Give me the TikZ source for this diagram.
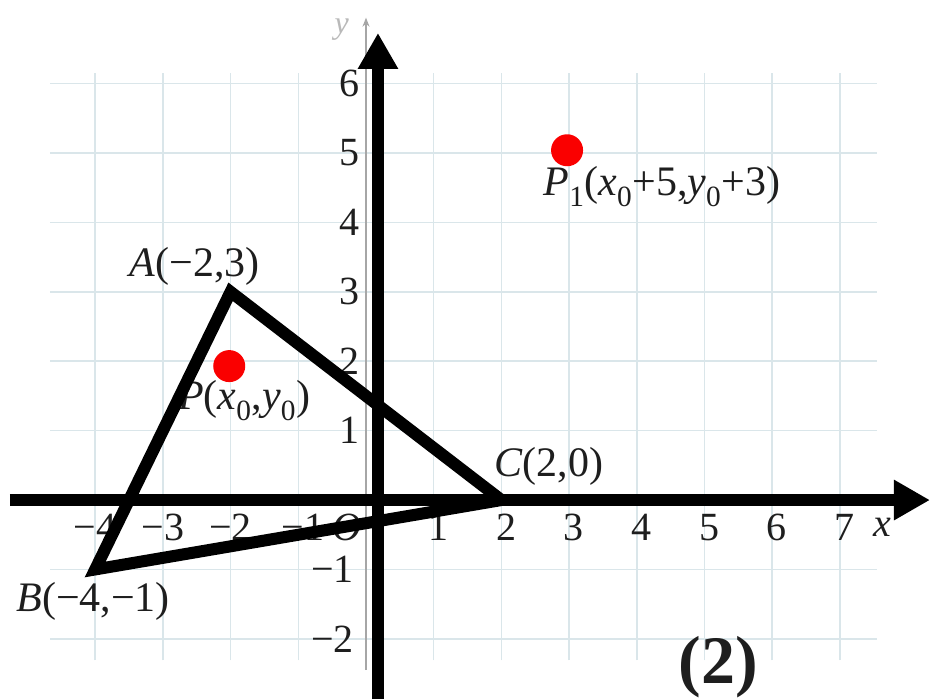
\documentclass[tikz,border=0pt]{standalone}
\usepackage{fontspec}
\setmainfont{Liberation Serif}
\usetikzlibrary{arrows.meta}
\definecolor{gridc}{RGB}{218,230,234}
\definecolor{inkc}{RGB}{30,30,30}
\definecolor{dotc}{RGB}{250,0,0}

\begin{document}
\begin{tikzpicture}[x=67.7pt, y=69.4pt, line join=miter,
  tick/.style={inkc, font=\fontsize{40}{42}\selectfont, inner sep=0pt},
  lbl/.style={inkc, font=\fontsize{42}{44}\selectfont, inner sep=0pt},
  axis/.style={line width=12pt, -{Triangle[length=36pt,width=38pt]}},
  dot/.style={circle, fill=dotc, minimum size=32pt, inner sep=0pt}]
  \def\ax{0.177}   % heavy y axis sits a little right of the grid origin

  \useasboundingbox (-5.406,-2.867) rectangle (8.375,7.205);

  % faint grid
  \foreach \i in {-4,...,7}
    \draw[gridc, line width=1.5pt] (\i,-2.31) -- (\i,6.15);
  \foreach \j in {-2,...,6}
    \draw[gridc, line width=1.5pt] (-4.67,\j) -- (7.55,\j);

  % thin original y axis
  \draw[gray!70, line width=1.2pt, -{Stealth[length=9pt,width=7pt]}] (0,-2.45) -- (0,6.95);
  \node[gray!55, font=\itshape\fontsize{32}{34}\selectfont, inner sep=0pt] (ylab) at (-0.36,6.78) {y};

  % tick labels
  \foreach \i in {4,3,2}
    \node[tick] at (-\i,-0.39) {−\i};
  \node[tick] at (-0.93,-0.39) {−1};
  \node[tick] (orig) at (-0.28,-0.39) {\textit{O}};
  \foreach \i in {1,...,7}
    \node[tick] at (\i+0.07,-0.39) {\i};
  \node[tick, font=\itshape\fontsize{40}{42}\selectfont] (xlab) at (7.62,-0.4) {x};
  \foreach \j in {1,...,6}
    \node[tick, anchor=east] at (-0.1,\j) {\j};
  \foreach \j in {1,2}
    \node[tick, anchor=east] at (-0.18,-\j) {−\j};

  % point labels
  \node[lbl] (labA) at (-2.53,3.36) {\textit{A}(−2,3)};
  \node[lbl] (labB) at (-4.03,-1.46) {\textit{B}(−4,−1)};
  \node[lbl] (labC) at (2.70,0.49) {\textit{C}(2,0)};
  \node[lbl] (labP) at (-1.80,1.44)
    {\textit{P}(\textit{x}\textsubscript{0},\textit{y}\textsubscript{0})};
  \node[lbl] (labPa) at (4.37,4.51)
    {\textit{P}\textsubscript{1}(\textit{x}\textsubscript{0}+5,\textit{y}\textsubscript{0}+3)};

  % triangle
  \coordinate (A) at (-2,3);
  \coordinate (B) at (-4,-1);
  \coordinate (C) at (2,0);
  \draw[line width=12pt] (A) -- (B) -- (C) -- cycle;

  % heavy axes
  \draw[axis] (-5.26,0) -- (8.33,0);
  \draw[axis] (\ax,-2.867) -- (\ax,6.73);

  % the two points
  \node[dot] (P) at (-2.02,1.93) {};
  \node[dot] (Pa) at (2.97,5.04) {};

  \node[inkc, font=\bfseries\fontsize{68}{70}\selectfont, anchor=base, inner sep=0pt]
    (fig) at (5.2,-2.64) {(2)};
\end{tikzpicture}
\end{document}
